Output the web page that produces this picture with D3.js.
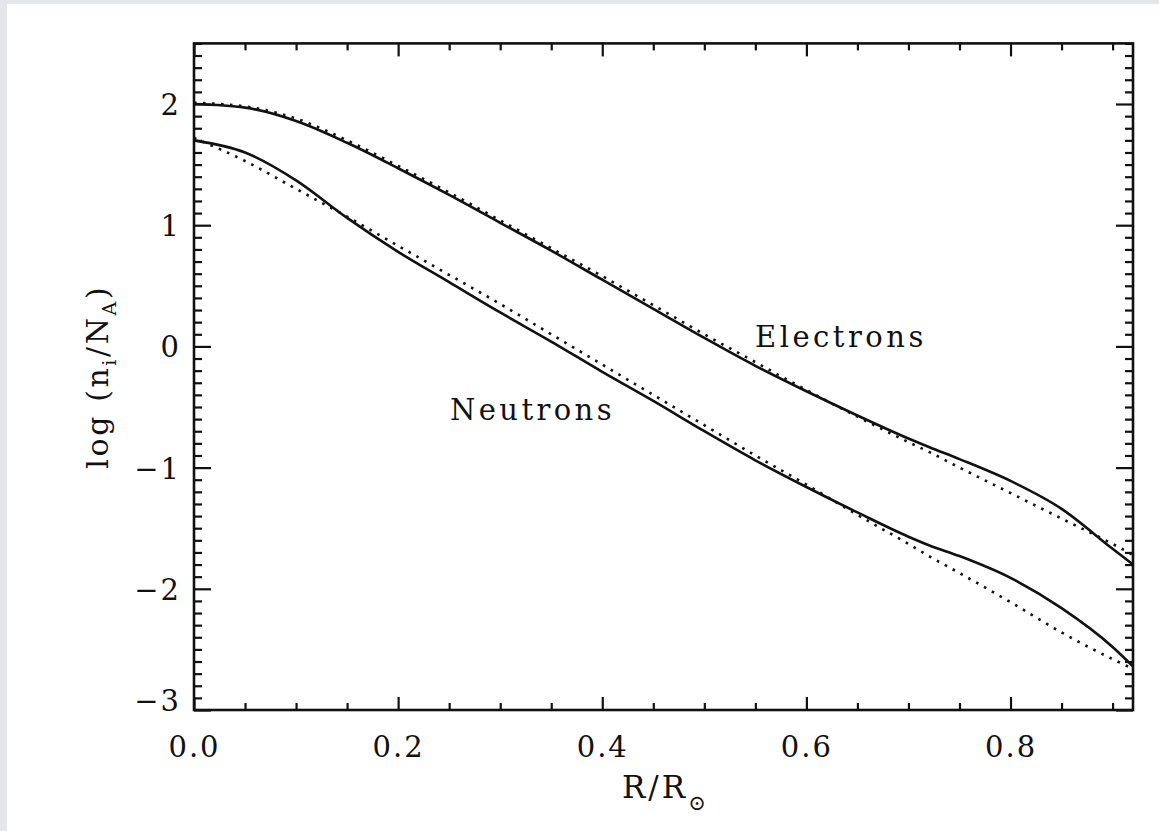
<!DOCTYPE html>
<html>
<head>
<meta charset="utf-8">
<script src="https://cdn.jsdelivr.net/npm/d3@7"></script>
<style>
  html, body { margin: 0; padding: 0; background: #e4e6ea; }
  svg { display: block; }
  text { font-family: "DejaVu Serif", "Liberation Serif", serif; fill: #111; }
</style>
</head>
<body>
<svg id="chart"></svg>
<script>
// radius grid (R/Rsun)
var radius = [0, 0.05, 0.1, 0.15, 0.2, 0.25, 0.3, 0.35, 0.4, 0.45, 0.5, 0.55, 0.6, 0.65, 0.7, 0.72, 0.75, 0.8, 0.85, 0.9, 0.92];

// log(n_i/N_A), solid = model, dotted = fit
var electronsSolid  = [2.00, 1.97, 1.86, 1.68, 1.47, 1.25, 1.02, 0.79, 0.55, 0.31, 0.07, -0.16, -0.37, -0.57, -0.76, -0.83, -0.93, -1.11, -1.34, -1.67, -1.80];
var electronsDotted = [2.01, 1.98, 1.88, 1.70, 1.49, 1.27, 1.04, 0.81, 0.58, 0.34, 0.10, -0.13, -0.36, -0.58, -0.79, -0.87, -1.00, -1.21, -1.42, -1.63, -1.72];
var neutronsSolid   = [1.70, 1.60, 1.37, 1.06, 0.78, 0.53, 0.28, 0.04, -0.21, -0.45, -0.70, -0.94, -1.16, -1.37, -1.57, -1.64, -1.73, -1.91, -2.16, -2.48, -2.64];
var neutronsDotted  = [1.72, 1.53, 1.30, 1.07, 0.83, 0.59, 0.35, 0.10, -0.15, -0.40, -0.65, -0.90, -1.14, -1.39, -1.63, -1.73, -1.87, -2.11, -2.36, -2.58, -2.66];

var xMajor = [0, 0.2, 0.4, 0.6, 0.8];
var yMajor = [-3, -2, -1, 0, 1, 2];

var width = 1159, height = 831;
var plotL = 194, plotR = 1133, plotT = 43.4, plotB = 710;

var svg = d3.select("#chart").attr("width", width).attr("height", height);

// white panel
svg.append("rect").attr("x", 7).attr("y", 4).attr("width", width - 7).attr("height", height - 4).attr("fill", "#fff");

var x = d3.scaleLinear().domain([0, 0.92]).range([plotL, plotR]);
var y = d3.scaleLinear().domain([-3, 2.5]).range([plotB, plotT]);

var xMinor = d3.range(0, 0.92, 0.05).filter(function (d) { return Math.abs(d / 0.2 - Math.round(d / 0.2)) > 1e-6; });
var yMinor = d3.range(-3, 2.5001, 0.1).filter(function (d) { return Math.abs(d - Math.round(d)) > 1e-6; });

function styleAxis(g) {
    g.select(".domain").remove();
    g.selectAll("line").attr("stroke", "#111").attr("stroke-width", 2.2);
}

// bottom axis
svg.append("g").attr("transform", "translate(0," + plotB + ")")
    .call(d3.axisBottom(x).tickValues(xMinor).tickSize(-7).tickFormat(""))
    .call(styleAxis);
var xb = svg.append("g").attr("transform", "translate(0," + plotB + ")")
    .call(d3.axisBottom(x).tickValues(xMajor).tickSize(-13).tickFormat(d3.format(".1f")))
    .call(styleAxis);
xb.selectAll("text").attr("y", 47).attr("dy", 0)
    .style("font-size", "29px").style("letter-spacing", "2px").attr("fill", "#111");

// top axis
svg.append("g").attr("transform", "translate(0," + plotT + ")")
    .call(d3.axisTop(x).tickValues(xMinor).tickSize(-7).tickFormat(""))
    .call(styleAxis);
svg.append("g").attr("transform", "translate(0," + plotT + ")")
    .call(d3.axisTop(x).tickValues(xMajor).tickSize(-13).tickFormat(""))
    .call(styleAxis);

// left axis
svg.append("g").attr("transform", "translate(" + plotL + ",0)")
    .call(d3.axisLeft(y).tickValues(yMinor).tickSize(-8).tickFormat(""))
    .call(styleAxis);
var yl = svg.append("g").attr("transform", "translate(" + plotL + ",0)")
    .call(d3.axisLeft(y).tickValues(yMajor).tickSize(-17).tickFormat(d3.format("d")))
    .call(styleAxis);
yl.selectAll("text").attr("x", -13).attr("dy", "0.36em")
    .style("font-size", "29px").style("letter-spacing", "2px").attr("fill", "#111");
yl.selectAll(".tick").filter(function (d) { return d === -3; }).select("text").attr("dy", "0.02em");

// right axis
svg.append("g").attr("transform", "translate(" + plotR + ",0)")
    .call(d3.axisRight(y).tickValues(yMinor).tickSize(-8).tickFormat(""))
    .call(styleAxis);
svg.append("g").attr("transform", "translate(" + plotR + ",0)")
    .call(d3.axisRight(y).tickValues(yMajor).tickSize(-17).tickFormat(""))
    .call(styleAxis);

// frame
svg.append("rect").attr("x", plotL).attr("y", plotT).attr("width", plotR - plotL).attr("height", plotB - plotT)
    .attr("fill", "none").attr("stroke", "#111").attr("stroke-width", 2.6);

// curves
var line = d3.line()
    .x(function (d) { return x(d[0]); })
    .y(function (d) { return y(d[1]); })
    .curve(d3.curveMonotoneX);

function series(vals) { return radius.map(function (r, i) { return [r, vals[i]]; }); }

var curves = [
    {vals: electronsDotted, dash: "2.6,6.4"},
    {vals: neutronsDotted, dash: "2.6,6.4"},
    {vals: electronsSolid, dash: null},
    {vals: neutronsSolid, dash: null}
];
svg.append("g").selectAll("path").data(curves).enter().append("path")
    .attr("d", function (d) { return line(series(d.vals)); })
    .attr("fill", "none")
    .attr("stroke", "#111")
    .attr("stroke-width", 2.6)
    .attr("stroke-dasharray", function (d) { return d.dash; });

// curve labels
svg.append("text").attr("x", 755).attr("y", 347).style("font-size", "29px").style("letter-spacing", "3.5px").text("Electrons");
svg.append("text").attr("x", 450).attr("y", 420).style("font-size", "29px").style("letter-spacing", "3.4px").text("Neutrons");

// axis titles
var xt = svg.append("text").attr("x", 622).attr("y", 798).style("font-size", "31px").style("letter-spacing", "3px");
xt.append("tspan").text("R/R");
xt.append("tspan").attr("dy", 12).style("font-size", "21px").text("\u2299");

var yt = svg.append("text").attr("transform", "translate(108," + (plotT + plotB) / 2 + ") rotate(-90)")
    .attr("text-anchor", "middle").style("font-size", "30px").style("letter-spacing", "2.6px");
yt.append("tspan").text("log (n");
yt.append("tspan").attr("dy", 8).style("font-size", "19px").text("i");
yt.append("tspan").attr("dy", -8).text("/N");
yt.append("tspan").attr("dy", 8).style("font-size", "19px").text("A");
yt.append("tspan").attr("dy", -8).text(")");
</script>
</body>
</html>
